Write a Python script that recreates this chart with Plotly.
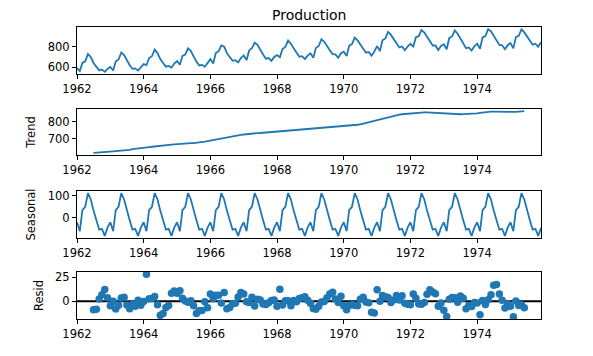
import numpy as np
import pandas as pd
import plotly.graph_objects as go

# ---- data: monthly milk production (pounds per cow), Jan 1962 - Dec 1975 ----
start_month = "1962-01-01"
production = [
    589, 561, 640, 656, 727, 697, 640, 599, 568, 577, 553, 582,
    600, 566, 653, 673, 742, 716, 660, 617, 583, 587, 565, 598,
    628, 618, 688, 705, 770, 736, 678, 639, 604, 611, 594, 634,
    658, 622, 709, 722, 782, 756, 702, 653, 615, 621, 602, 635,
    677, 635, 736, 755, 811, 798, 735, 697, 661, 667, 645, 688,
    713, 667, 762, 784, 837, 817, 767, 722, 681, 687, 660, 698,
    717, 696, 775, 796, 858, 826, 783, 740, 701, 706, 677, 711,
    734, 690, 785, 805, 871, 845, 801, 764, 725, 723, 690, 734,
    750, 707, 807, 824, 886, 859, 819, 783, 740, 747, 711, 751,
    804, 756, 860, 878, 942, 913, 869, 834, 790, 800, 763, 800,
    826, 799, 890, 900, 961, 935, 894, 855, 809, 810, 766, 805,
    821, 773, 883, 898, 957, 924, 881, 837, 784, 791, 760, 802,
    828, 778, 889, 902, 969, 947, 908, 867, 815, 812, 773, 813,
    834, 782, 892, 903, 966, 937, 896, 858, 817, 827, 797, 843,
]
period = 12
panel_titles = ["", "Trend", "Seasonal", "Resid"]
y_dticks = [200, 100, 100, 25]
x_tick_years = ["1962", "1964", "1966", "1968", "1970", "1972", "1974"]

# ---- additive seasonal decomposition (centred 2x12 moving average) ----
x = np.array(production, dtype=float)
n = len(x)
months = pd.date_range(start_month, periods=n, freq="MS")
filt = np.r_[0.5, np.ones(period - 1), 0.5] / period
half = period // 2
trend = np.full(n, np.nan)
for i in range(half, n - half):
    trend[i] = np.dot(filt, x[i - half:i + half + 1])
detrended = x - trend
period_avg = np.array([np.nanmean(detrended[i::period]) for i in range(period)])
period_avg -= period_avg.mean()
seasonal = np.tile(period_avg, n // period)
resid = detrended - seasonal

series = [x, trend, seasonal, resid]

# ---- layout geometry (pixels) ----
W, H = 593, 356
x_left, x_right = 77, 541
panels_px = [(27, 74), (109, 155), (191, 238), (272, 319)]

BLUE = "#1f77b4"
FONT = "DejaVu Sans"

def nn(a):
    return [None if np.isnan(v) else float(v) for v in a]

def mpl_range(a):
    a = np.asarray(a, float)
    a = a[~np.isnan(a)]
    lo, hi = a.min(), a.max()
    pad = (hi - lo) * 0.05
    return [lo - pad, hi + pad]

fig = go.Figure()
for k, s in enumerate(series):
    ax = "" if k == 0 else str(k + 1)
    if k < 3:
        fig.add_trace(go.Scatter(
            x=months, y=nn(s), mode="lines",
            line=dict(color=BLUE, width=1.8),
            xaxis="x" + ax, yaxis="y" + ax, showlegend=False,
            connectgaps=False, hoverinfo="x+y"))
    else:
        fig.add_trace(go.Scatter(
            x=months, y=nn(s), mode="markers",
            marker=dict(color=BLUE, size=7.5, line=dict(width=0)),
            xaxis="x" + ax, yaxis="y" + ax, showlegend=False))

layout = dict(
    template="none",
    width=W, height=H,
    margin=dict(l=0, r=0, t=0, b=0, pad=0),
    paper_bgcolor="white", plot_bgcolor="white",
    font=dict(family=FONT, size=11.5, color="#000000"),
    showlegend=False,
)

xr = [months[0], months[-1]]
for k in range(4):
    ax = "" if k == 0 else str(k + 1)
    top, bot = panels_px[k]
    layout["xaxis" + ax] = dict(
        domain=[x_left / W, x_right / W],
        anchor="y" + ax,
        automargin=False,
        type="date", range=xr,
        tickmode="array",
        tickvals=[pd.Timestamp(y + "-01-01") for y in x_tick_years],
        ticktext=x_tick_years,
        ticks="outside", ticklen=4, tickwidth=1, tickcolor="#000",
        showline=True, linecolor="#000", linewidth=1, mirror=True,
        showgrid=False, zeroline=False,
        tickfont=dict(family=FONT, size=11.5, color="#000"),
    )
    layout["yaxis" + ax] = dict(
        domain=[1 - bot / H, 1 - top / H],
        anchor="x" + ax,
        automargin=False,
        range=mpl_range(series[k]),
        dtick=y_dticks[k], tick0=0,
        ticks="outside", ticklen=4, tickwidth=1, tickcolor="#000",
        showline=True, linecolor="#000", linewidth=1, mirror=True,
        showgrid=False, zeroline=False,
        tickfont=dict(family=FONT, size=11.5, color="#000"),
        title=dict(text=panel_titles[k], font=dict(family=FONT, size=11.5, color="#000"),
                   standoff=9),
    )
fig.update_layout(**layout)

# zero line in residual panel
fig.add_shape(type="line", xref="x4 domain", yref="y4", x0=0, x1=1, y0=0, y1=0,
              line=dict(color="#000000", width=1.8), layer="below")

fig.add_annotation(text="Production", xref="paper", yref="paper",
                   x=(x_left + x_right) / 2 / W, y=1 - 14.5 / H,
                   xanchor="center", yanchor="middle", showarrow=False,
                   font=dict(family=FONT, size=14, color="#000"))

# remove the default 8px page margin so the figure fills the window exactly
fig.write_html("out.html", config={"displayModeBar": False},
               post_script="document.body.style.margin='0';")
